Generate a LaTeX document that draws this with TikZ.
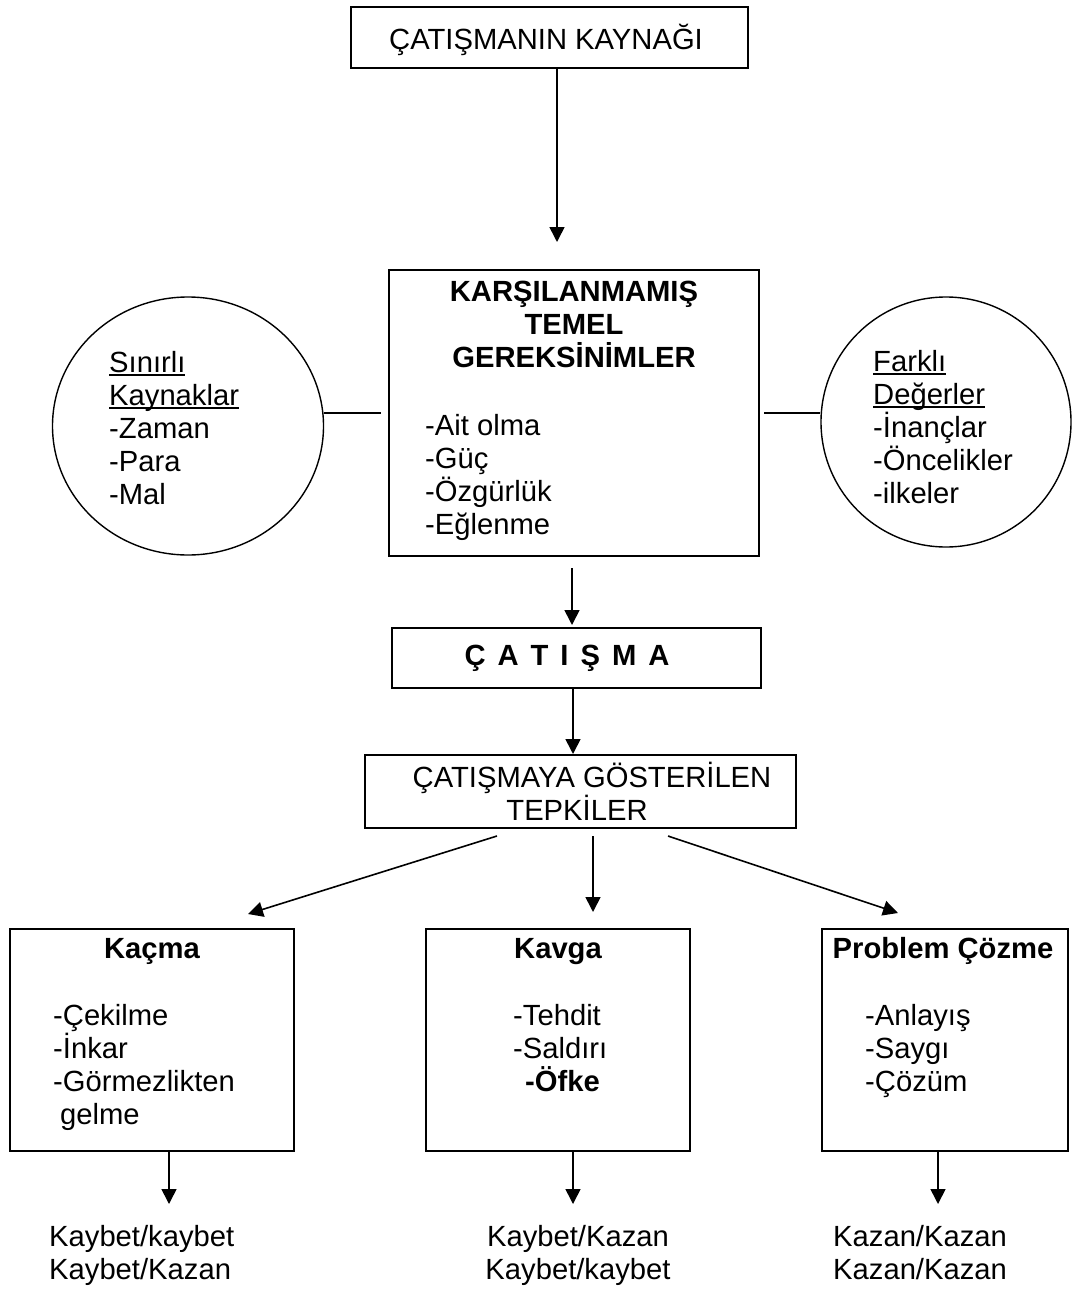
\documentclass[tikz,border=0pt]{standalone}
\usepackage{fontspec}
\setmainfont{Liberation Sans}
\usetikzlibrary{arrows.meta,shapes.geometric}
\newcommand{\basefont}{\fontsize{29.2}{33}\selectfont}
\newcommand{\ulword}[1]{\setbox0\hbox{#1}\rlap{\rule[-4pt]{\wd0}{1.8pt}}\box0}
\tikzset{box/.style={draw,line width=2pt,inner sep=0pt},
  bubble/.style={draw,ellipse,line width=1.4pt,inner sep=0pt},
  edge/.style={-{Triangle[length=15pt,width=15pt]},line width=1.6pt},
  link/.style={line width=1.4pt},
  txt/.style={inner sep=0pt,align=left},
  head/.style={inner sep=0pt,font=\basefont\bfseries}}

\begin{document}
\begin{tikzpicture}[x=1pt,y=-1pt,font=\basefont]
    \useasboundingbox (0,0) rectangle (1072,1290);
    \node[box,minimum width=397pt,minimum height=61pt] (src) at (549.5,37.5) {};
    \node[txt,anchor=base] (srct) at (546,50) {ÇATIŞMANIN KAYNAĞI};
    \coordinate (a1) at (557,242);
    \draw[edge] (a1 |- src.south) -- (a1);

    \node[box,minimum width=370pt,minimum height=286pt] (need) at (574,413) {};
    \node[head,align=center,anchor=base] (needt) at (574,367) {KARŞILANMAMIŞ\\TEMEL\\GEREKSİNİMLER};
    \node[txt,anchor=base west] (needl) at (425,534) {-Ait olma\\-Güç\\-Özgürlük\\-Eğlenme};

    \node[bubble,minimum width=271pt,minimum height=258pt] (lim) at (188,426) {};
    \node[txt,anchor=base west] (limt) at (109,504) {\ulword{Sınırlı}\\\ulword{Kaynaklar}\\-Zaman\\-Para\\-Mal};
    \node[bubble,minimum width=250pt,minimum height=250pt] (val) at (946,422) {};
    \node[txt,anchor=base west] (valt) at (873,503) {\ulword{Farklı}\\\ulword{Değerler}\\-İnançlar\\-Öncelikler\\-ilkeler};
    \coordinate (l1) at (381,413);
    \coordinate (r1) at (764,413);
    \draw[link] (l1 -| lim.east) -- (l1);
    \draw[link] (r1) -- (r1 -| val.west);

    \coordinate (a2s) at (572,568);
    \coordinate (a2) at (572,625);
    \draw[edge] (a2s) -- (a2);
    \node[box,minimum width=369pt,minimum height=60pt] (conf) at (576.5,658) {};
    \node[head,anchor=base] (conft) at (567,665) {\spaceskip=12pt Ç A T I Ş M A};

    \node[box,minimum width=431pt,minimum height=73pt] (tepk) at (580.5,791.5) {};
    \node[txt,anchor=base] (tepk1) at (592,787) {ÇATIŞMAYA GÖSTERİLEN};
    \node[txt,anchor=base] (tepk2) at (577,820) {TEPKİLER};
    \coordinate (a3) at (573,0);
    \draw[edge] (a3 |- conf.south) -- (a3 |- tepk.north);

    \coordinate (b1s) at (497,836);
    \coordinate (b1) at (248,914);
    \coordinate (b2s) at (593,836);
    \coordinate (b2) at (593,912);
    \coordinate (b3s) at (668,836);
    \coordinate (b3) at (898,913);
    \draw[edge] (b1s) -- (b1);
    \draw[edge] (b2s) -- (b2);
    \draw[edge] (b3s) -- (b3);

    \node[box,minimum width=284pt,minimum height=222pt] (esc) at (152,1040) {};
    \node[head,anchor=base] (esch) at (152,958) {Kaçma};
    \node[txt,anchor=base west] (escl) at (53,1124) {-Çekilme\\-İnkar\\-Görmezlikten\\\hspace*{7pt}gelme};
    \node[box,minimum width=264pt,minimum height=222pt] (fight) at (558,1040) {};
    \node[head,anchor=base] (fighth) at (558,958) {Kavga};
    \node[txt,anchor=base west] (fightl) at (513,1091) {-Tehdit\\-Saldırı\\\hspace*{12pt}\textbf{-Öfke}};
    \node[box,minimum width=246pt,minimum height=222pt] (solve) at (945,1040) {};
    \node[head,anchor=base] (solveh) at (943,958) {Problem Çözme};
    \node[txt,anchor=base west] (solvel) at (865,1091) {-Anlayış\\-Saygı\\-Çözüm};

    \coordinate (c1) at (169,1204);
    \coordinate (c2) at (573,1204);
    \coordinate (c3) at (938,1204);
    \draw[edge] (c1 |- esc.south) -- (c1);
    \draw[edge] (c2 |- fight.south) -- (c2);
    \draw[edge] (c3 |- solve.south) -- (c3);

    \node[txt,anchor=base west] (escout) at (49,1279) {Kaybet/kaybet\\Kaybet/Kazan};
    \node[txt,align=center,anchor=base] (fightout) at (578,1279) {Kaybet/Kazan\\Kaybet/kaybet};
    \node[txt,anchor=base west] (solveout) at (833,1279) {Kazan/Kazan\\Kazan/Kazan};
\end{tikzpicture}
\end{document}
